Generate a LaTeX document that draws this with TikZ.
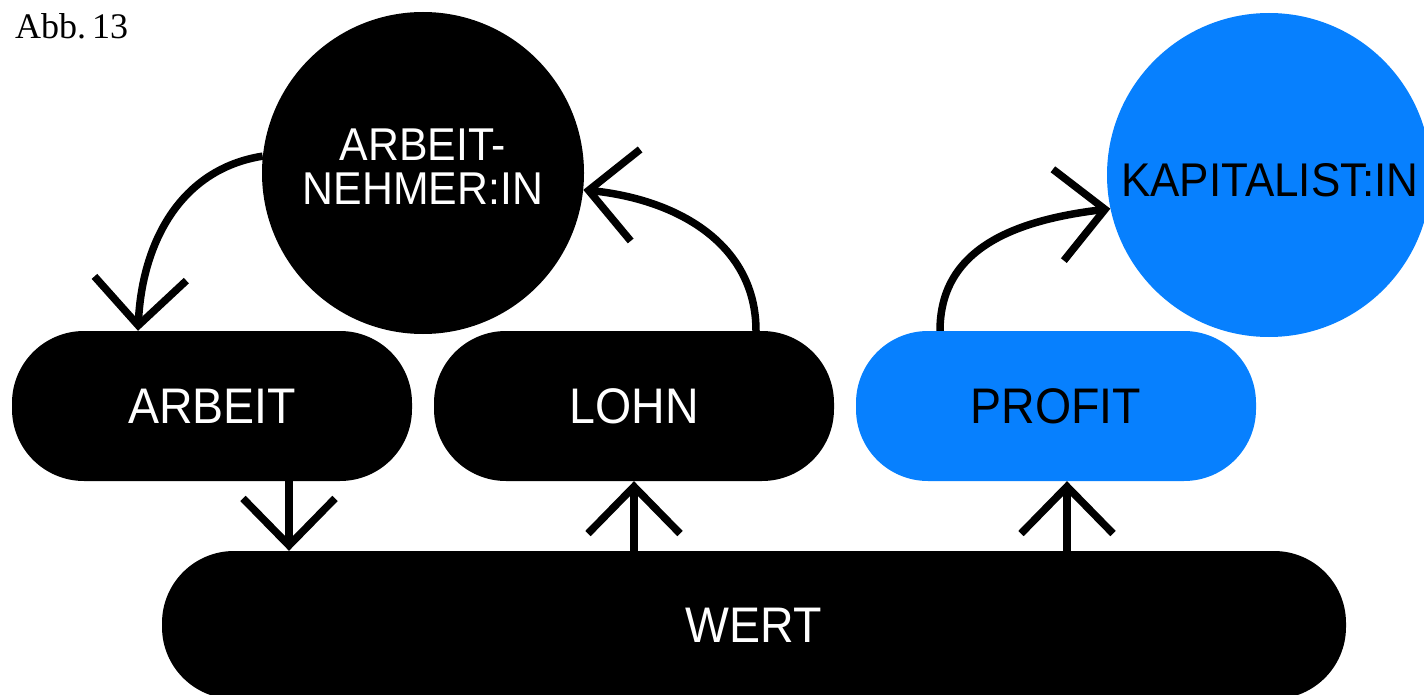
\documentclass[tikz,border=0pt]{standalone}
\usepackage{fontspec}
\setmainfont{Liberation Sans}[FakeStretch=0.93]
\newfontfamily\abbfont{Liberation Serif}
\usetikzlibrary{arrows.meta}
\definecolor{kblue}{HTML}{0780FE}
\begin{document}
\begin{tikzpicture}[x=1pt,y=-1pt,
  pill/.style={rectangle, rounded corners=72pt, minimum width=400pt, minimum height=150pt,
    inner sep=0pt, font=\fontsize{50}{60}\selectfont},
  blackpill/.style={pill, fill=black, text=white},
  bluepill/.style={pill, fill=kblue, text=black},
  bigcircle/.style={circle, inner sep=0pt},
  circtext/.style={inner sep=0pt, align=center, font=\fontsize{46}{44}\selectfont},
  conn/.style={line width=7.5pt, draw=black,
    -{Straight Barb[length=47pt, width=92pt]}}
]
\useasboundingbox (0,0) rectangle (1424,695);

% title
\node[anchor=base west, inner sep=0pt, font=\abbfont\fontsize{36}{40}\selectfont] (abb) at (15,39) {Abb.\,13};

% circles
\node[bigcircle, fill=black, minimum size=322pt] (an) at (423,173) {};
\node[circtext, text=white] (antext) at (423,166.5) {ARBEIT-\\NEHMER:IN};
\node[bigcircle, fill=kblue, minimum size=324pt] (kap) at (1269,175) {};
\node[circtext, text=black, font=\fontsize{47.3}{44}\selectfont] (kaptext) at (1270,180.5) {KAPITALIST:IN};

% pills
\node[blackpill] (arbeit) at (212,406) {ARBEIT};
\node[blackpill] (lohn) at (634,406) {LOHN};
\node[bluepill] (profit) at (1056,406) {PROFIT};
\node[blackpill, minimum width=1184pt, minimum height=148pt] (wert) at (754,625) {WERT};

% connectors
\draw[conn] (an.174) .. controls +(-83,13) and +(4,-87) .. ([xshift=-74pt]arbeit.north);
\draw[conn] ([xshift=122pt]lohn.north) .. controls +(0,-85) and +(97,10) .. (an.-6.6);
\draw[conn] ([xshift=-116pt]profit.north) .. controls +(0,-80) and +(-100,12) .. (kap.192.3);

\draw[conn] ([xshift=77pt]arbeit.south) -- ([xshift=77pt]arbeit.south |- wert.north);
\draw[conn] (lohn.south |- wert.north) -- (lohn.south);
\draw[conn] ([xshift=11pt]profit.south |- wert.north) -- ([xshift=11pt]profit.south);
\end{tikzpicture}
\end{document}
